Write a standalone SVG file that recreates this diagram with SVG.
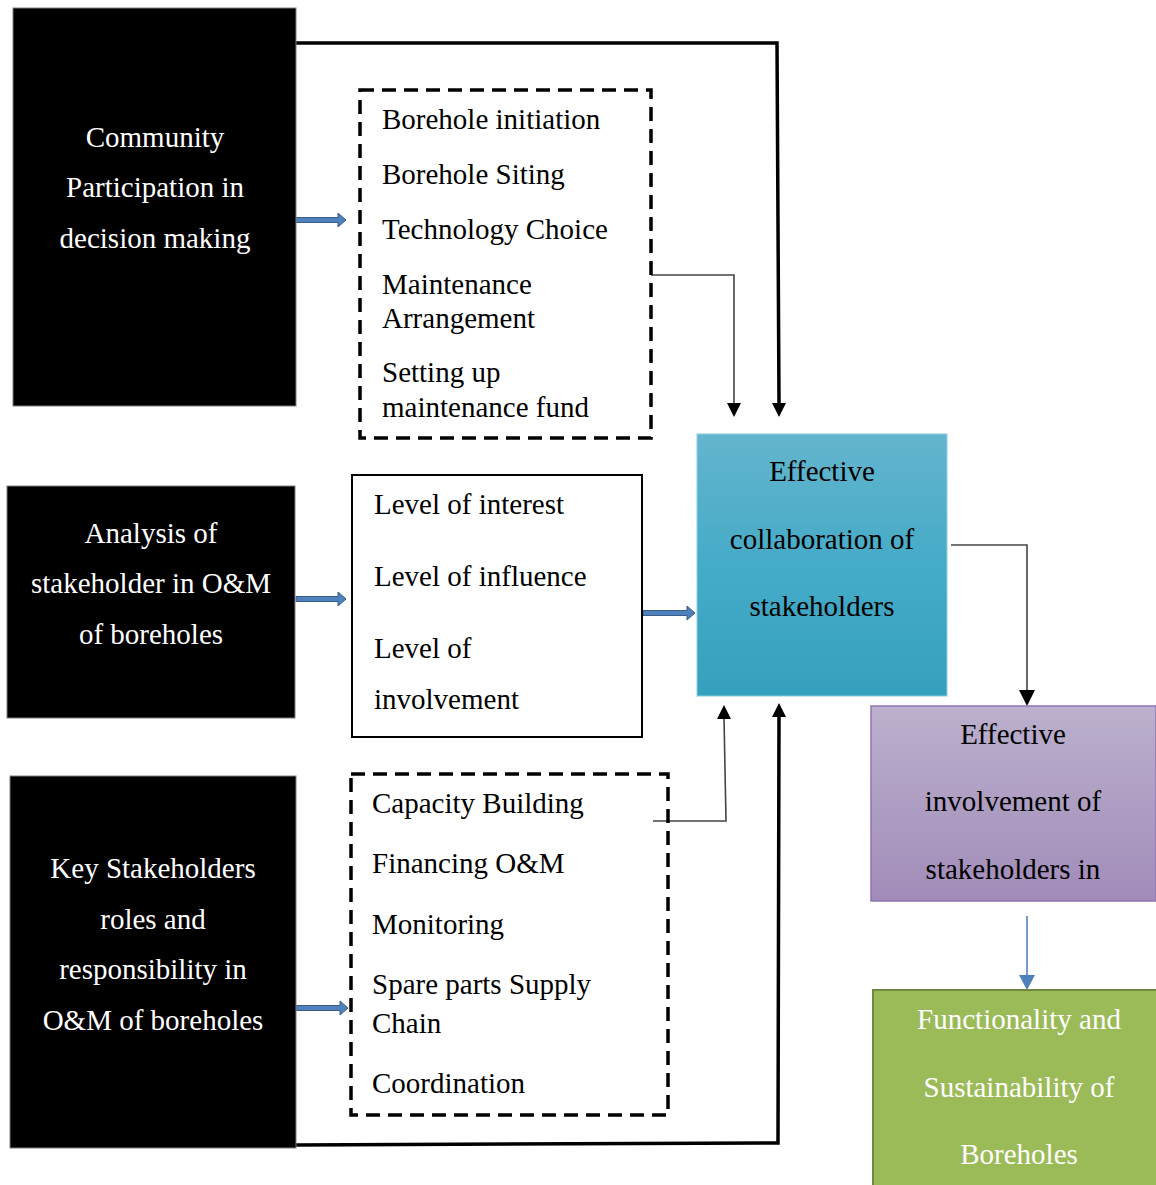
<svg xmlns="http://www.w3.org/2000/svg" width="1156" height="1185" viewBox="0 0 1156 1185">
<style>
text{font-family:"Liberation Serif","Times New Roman",serif;font-size:29px;}
.w{fill:#ffffff;}
.k{fill:#000000;}
.c{text-anchor:middle;}
.blk{fill:#000000;stroke:#7f7f7f;stroke-width:1;}
.dash{fill:none;stroke:#000;stroke-width:3.5;stroke-dasharray:14 8;}
.solid{fill:#fff;stroke:#000;stroke-width:2;}
.thick{fill:none;stroke:#000;stroke-width:3.5;}
.thin{fill:none;stroke:#444;stroke-width:1.6;}
.blue{fill:#4f81bd;stroke:#385d8a;stroke-width:1;}
</style>
<defs>
<linearGradient id="gBlue" x1="0" y1="0" x2="0" y2="1">
<stop offset="0" stop-color="#64b5cd"/>
<stop offset="0.5" stop-color="#45abc8"/>
<stop offset="1" stop-color="#35a0bd"/>
</linearGradient>
<linearGradient id="gPurple" x1="0" y1="0" x2="0" y2="1">
<stop offset="0" stop-color="#bbb0cd"/>
<stop offset="1" stop-color="#a18cb9"/>
</linearGradient>
</defs>

<g id="connectors">
<path class="thick" d="M296,43 L777,43 L779,403"/>
<path d="M772,403 L786,403 L779,417 Z" fill="#000"/>
<path class="thin" d="M651,275 L734,275 L734,403"/>
<path d="M727,403 L741,403 L734,417 Z" fill="#000"/>
<path class="thin" d="M951,545 L1027,545 L1027,692"/>
<path d="M1019,690 L1035,690 L1027,706 Z" fill="#000"/>
<path d="M1027,916 L1027,976" stroke="#4f81bd" stroke-width="1.6" fill="none"/>
<path d="M1019,975 L1035,975 L1027,990 Z" fill="#4f81bd"/>
<path class="thin" d="M653,821 L726,821 L724,718"/>
<path d="M717,719 L731,719 L724,705 Z" fill="#000"/>
<path class="thick" d="M296,1145 L778,1143 L779,717"/>
<path d="M772,717 L786,717 L779,703 Z" fill="#000"/>
<polygon class="blue" points="293,217.5 338,217.5 338,213 346,220 338,227 338,222.5 293,222.5"/>
<polygon class="blue" points="296,596.5 338,596.5 338,592 346,599 338,606 338,601.5 296,601.5"/>
<polygon class="blue" points="643,610.5 687,610.5 687,606 695,613 687,620 687,615.5 643,615.5"/>
<polygon class="blue" points="296,1005.5 340,1005.5 340,1001 348,1008 340,1015 340,1010.5 296,1010.5"/>
</g>

<g id="node-community">
<rect class="blk" x="13" y="8" width="283" height="398"/>
<text class="w c" x="155" y="147">Community</text>
<text class="w c" x="155" y="197">Participation in</text>
<text class="w c" x="155" y="248">decision making</text>
</g>

<g id="node-decisions">
<rect class="dash" x="360" y="90" width="291" height="348"/>
<text class="k" x="382" y="129">Borehole initiation</text>
<text class="k" x="382" y="184">Borehole Siting</text>
<text class="k" x="382" y="239">Technology Choice</text>
<text class="k" x="382" y="294">Maintenance</text>
<text class="k" x="382" y="328">Arrangement</text>
<text class="k" x="382" y="382">Setting up</text>
<text class="k" x="382" y="417">maintenance fund</text>
</g>

<g id="node-analysis">
<rect class="blk" x="7" y="486" width="288" height="232"/>
<text class="w c" x="151" y="543">Analysis of</text>
<text class="w c" x="151" y="593">stakeholder in O&amp;M</text>
<text class="w c" x="151" y="644">of boreholes</text>
</g>

<g id="node-levels">
<rect class="solid" x="352" y="475" width="290" height="262"/>
<text class="k" x="374" y="514">Level of interest</text>
<text class="k" x="374" y="586">Level of influence</text>
<text class="k" x="374" y="658">Level of</text>
<text class="k" x="374" y="709">involvement</text>
</g>

<g id="node-collaboration">
<rect x="697" y="434" width="250" height="262" fill="url(#gBlue)" stroke="#8ccfe0" stroke-width="1"/>
<text class="k c" x="822" y="481">Effective</text>
<text class="k c" x="822" y="549">collaboration of</text>
<text class="k c" x="822" y="616">stakeholders</text>
</g>

<g id="node-involvement">
<rect x="871" y="706" width="285" height="195" fill="url(#gPurple)" stroke="#8e76b0" stroke-width="1.5"/>
<text class="k c" x="1013" y="744">Effective</text>
<text class="k c" x="1013" y="811">involvement of</text>
<text class="k c" x="1013" y="879">stakeholders in</text>
</g>

<g id="node-functionality">
<rect x="873" y="990" width="284" height="197" fill="#9bbb59" stroke="#71893f" stroke-width="2"/>
<text class="w c" x="1019" y="1029">Functionality and</text>
<text class="w c" x="1019" y="1097">Sustainability of</text>
<text class="w c" x="1019" y="1164">Boreholes</text>
</g>

<g id="node-key">
<rect class="blk" x="10" y="776" width="286" height="372"/>
<text class="w c" x="153" y="878">Key Stakeholders</text>
<text class="w c" x="153" y="929">roles and</text>
<text class="w c" x="153" y="979">responsibility in</text>
<text class="w c" x="153" y="1030">O&amp;M of boreholes</text>
</g>

<g id="node-roles">
<rect class="dash" x="351" y="774" width="317" height="341"/>
<text class="k" x="372" y="813">Capacity Building</text>
<text class="k" x="372" y="873">Financing O&amp;M</text>
<text class="k" x="372" y="934">Monitoring</text>
<text class="k" x="372" y="994">Spare parts Supply</text>
<text class="k" x="372" y="1033">Chain</text>
<text class="k" x="372" y="1093">Coordination</text>
</g>
</svg>
